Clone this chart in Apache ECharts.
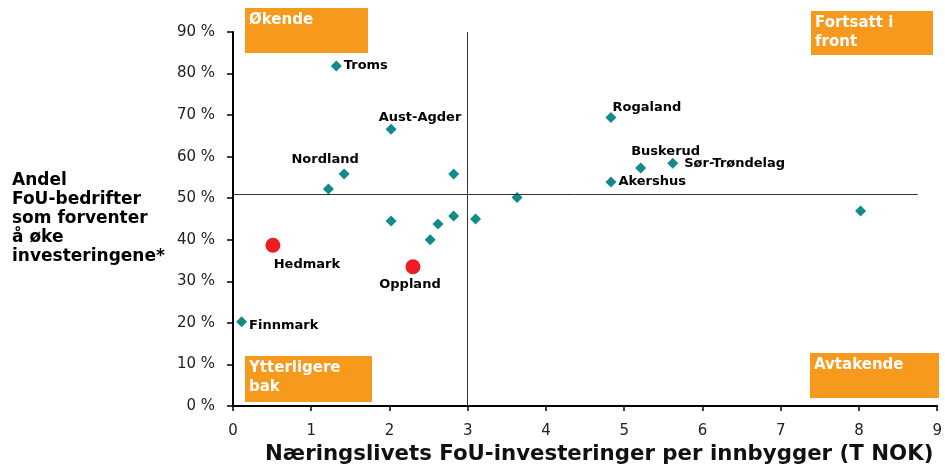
<!DOCTYPE html>
<html>
<head>
<meta charset="utf-8">
<script src="https://cdn.jsdelivr.net/npm/echarts@6/dist/echarts.min.js"></script>
<style>
  html, body { margin: 0; padding: 0; background: #fff; }
  #root { width: 945px; height: 471px; }
</style>
</head>
<body>
<div id="root"></div>
<script>
// teal diamonds: fylker
const fylkeNames = ['Troms', 'Aust-Agder', 'Nordland', '', '', '', '', '', '', '', '', 'Finnmark',
  'Rogaland', 'Buskerud', 'Sør-Trøndelag', 'Akershus', ''];
const fylkeX = [1.32, 2.02, 1.42, 1.22, 2.82, 2.02, 2.62, 2.82, 3.10, 2.52, 3.63, 0.11,
  4.83, 5.21, 5.62, 4.83, 8.02];
const fylkeY = [81.8, 66.6, 55.8, 52.2, 55.8, 44.5, 43.8, 45.7, 45.0, 40.0, 50.2, 20.3,
  69.4, 57.3, 58.4, 53.9, 46.9];

// red dots: highlighted fylker
const focusNames = ['Hedmark', 'Oppland'];
const focusX = [0.51, 2.30];
const focusY = [38.7, 33.5];

const xTicks = [0, 1, 2, 3, 4, 5, 6, 7, 8, 9];
const yTicks = [0, 10, 20, 30, 40, 50, 60, 70, 80, 90];

const splitX = 3;
const splitY = 51;

// where each label sits relative to its point
const labelPlace = {
  'Troms': { position: 'right', distance: 2 },
  'Aust-Agder': { position: 'top', distance: 0, offset: [29, 0] },
  'Nordland': { position: 'top', distance: 0, offset: [-19, -2] },
  'Finnmark': { position: 'right', distance: 2, offset: [0, 4] },
  'Rogaland': { position: 'right', distance: 0, offset: [-4, -10] },
  'Buskerud': { position: 'top', distance: 2, offset: [25, -2] },
  'Sør-Trøndelag': { position: 'right', distance: 6 },
  'Akershus': { position: 'right', distance: 2 },
  'Hedmark': { position: 'bottom', distance: 5, offset: [34, 0] },
  'Oppland': { position: 'bottom', distance: 5, offset: [-3, -1] }
};

const labelFont = {
  fontFamily: 'DejaVu Sans', fontWeight: 'bold', fontSize: 13, color: '#000'
};

function toItems(names, xs, ys) {
  return xs.map((x, i) => {
    const item = { name: names[i], value: [x, ys[i]] };
    const p = labelPlace[names[i]];
    if (p) {
      item.label = Object.assign({ show: true, formatter: '{b}' }, labelFont, p);
    }
    return item;
  });
}

const orange = '#F7991C';
function box(x, y, w, h, txt, lh) {
  return {
    type: 'group', left: x, top: y,
    children: [
      { type: 'rect', shape: { x: 0, y: 0, width: w, height: h }, style: { fill: orange } },
      { type: 'text', x: 4, y: 3, style: {
        text: txt, fill: '#fff', font: 'bold 15px "DejaVu Sans"', lineHeight: lh || 19
      } }
    ]
  };
}

const chart = echarts.init(document.getElementById('root'));
chart.setOption({
  animation: false,
  grid: { left: 233, right: 3, top: 32, bottom: 65, containLabel: false },
  xAxis: {
    type: 'value', min: xTicks[0], max: xTicks[xTicks.length - 1], interval: 1,
    axisLine: { show: true, lineStyle: { color: '#000', width: 2 } },
    axisTick: { show: true, length: 5, lineStyle: { color: '#000', width: 1.5 } },
    axisLabel: { margin: 18, fontFamily: 'DejaVu Sans', fontSize: 15, color: '#222' },
    splitLine: { show: false }
  },
  yAxis: {
    type: 'value', min: yTicks[0], max: yTicks[yTicks.length - 1], interval: 10,
    axisLine: { show: true, lineStyle: { color: '#000', width: 2 } },
    axisTick: { show: true, length: 6, lineStyle: { color: '#000', width: 1.5 } },
    axisLabel: { margin: 18, formatter: '{value} %', fontFamily: 'DejaVu Sans', fontSize: 15, color: '#222' },
    splitLine: { show: false }
  },
  series: [
    {
      type: 'scatter',
      symbol: 'diamond',
      symbolSize: 11,
      itemStyle: { color: '#138A8A', opacity: 1 },
      data: toItems(fylkeNames, fylkeX, fylkeY),
      markLine: {
        silent: true,
        symbol: 'none',
        label: { show: false },
        lineStyle: { color: '#333', width: 1, type: 'solid' },
        data: [
          [{ coord: [splitX, 90] }, { coord: [splitX, 0] }],
          [{ coord: [0, splitY] }, { coord: [8.75, splitY] }]
        ]
      }
    },
    {
      type: 'scatter',
      symbol: 'circle',
      symbolSize: 15,
      itemStyle: { color: '#EE1C24', opacity: 1 },
      data: toItems(focusNames, focusX, focusY)
    }
  ],
  graphic: [
    box(245, 8, 123, 45, 'Økende'),
    box(811, 11, 122, 44, 'Fortsatt i\nfront'),
    box(245, 356, 127, 46, 'Ytterligere\nbak'),
    box(810, 353, 129, 45, 'Avtakende'),
    {
      type: 'text', left: 12, top: 171,
      style: {
        text: 'Andel\nFoU-bedrifter\nsom forventer\nå øke\ninvesteringene*',
        font: 'bold 17px "DejaVu Sans"', fill: '#000', lineHeight: 19
      }
    },
    {
      type: 'text', left: 265, top: 444,
      style: {
        text: 'Næringslivets FoU-investeringer per innbygger (T NOK)',
        font: 'bold 21.3px "DejaVu Sans"', fill: '#111'
      }
    }
  ]
});
</script>
</body>
</html>
